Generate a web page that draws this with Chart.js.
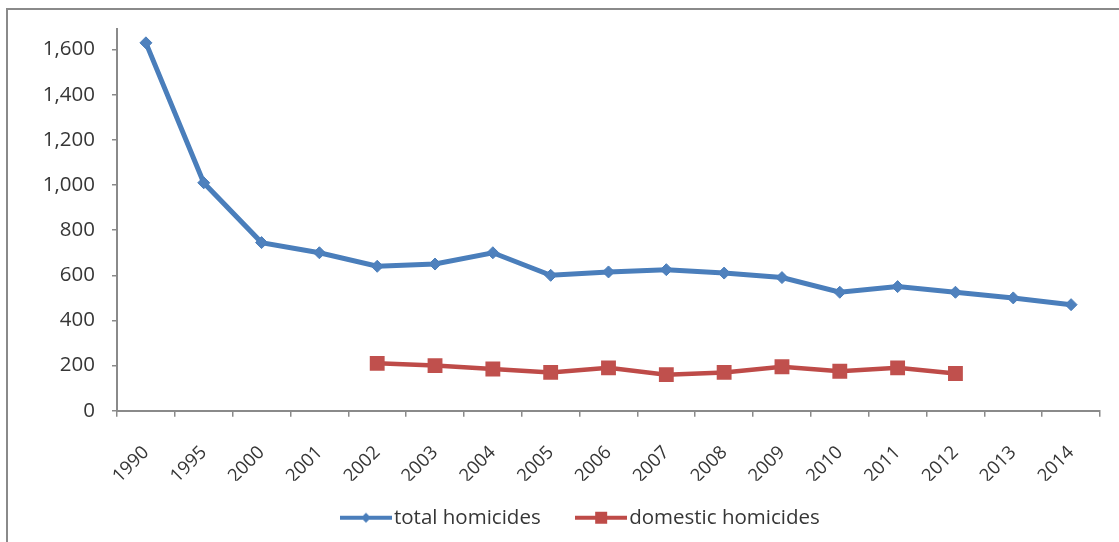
<!DOCTYPE html>
<html>
<head>
<meta charset="utf-8">
<title>Homicides</title>
<script src="https://cdn.jsdelivr.net/npm/chart.js@4/dist/chart.umd.min.js"></script>
<style>
  html, body { margin: 0; padding: 0; background: #fff; overflow: hidden; }
  #wrap { position: relative; width: 1119px; height: 542px; }
  #wrap canvas { position: absolute; left: 0; top: 0; }
  /* outer frame, only top and left edges fall inside the page */
  #frame {
    position: absolute; left: 6px; top: 8px; width: 1200px; height: 600px;
    border-top: 2px solid #8a8a8a; border-left: 2px solid #8a8a8a;
    pointer-events: none;
  }
</style>
</head>
<body>
<div id="wrap">
  <canvas id="chart" width="1119" height="542"></canvas>
  <div id="frame"></div>
</div>
<script>
const years = ['1990', '1995', '2000', '2001', '2002', '2003', '2004', '2005', '2006',
               '2007', '2008', '2009', '2010', '2011', '2012', '2013', '2014'];
const totalHomicides = [1630, 1010, 745, 700, 640, 650, 700, 600, 615,
                        625, 610, 590, 525, 550, 525, 500, 470];
const domesticHomicides = [null, null, null, null, 210, 200, 185, 170, 190,
                           160, 170, 195, 175, 190, 165, null, null];
const seriesNames = ['total homicides', 'domestic homicides'];

const BLUE = '#4a7ebb';
const RED = '#be4b48';
const AXIS = '#8a8a8a';
const TEXT = '#363636';
const FONT = '"Open Sans", sans-serif';

// little line + marker sample used as the legend symbol
function legendSymbol(color, shape) {
    const c = document.createElement('canvas');
    c.width = 52;
    c.height = 16;
    const ctx = c.getContext('2d');
    ctx.strokeStyle = color;
    ctx.lineWidth = 4;
    ctx.beginPath();
    ctx.moveTo(0, 8);
    ctx.lineTo(52, 8);
    ctx.stroke();
    ctx.fillStyle = color;
    if (shape === 'diamond') {
        ctx.beginPath();
        ctx.moveTo(26, 3);
        ctx.lineTo(31, 8);
        ctx.lineTo(26, 13);
        ctx.lineTo(21, 8);
        ctx.closePath();
        ctx.fill();
    } else {
        ctx.fillRect(20, 2, 12, 12);
    }
    return c;
}

const symbols = [legendSymbol(BLUE, 'diamond'), legendSymbol(RED, 'square')];

// legend sits a bit right of the canvas centre
const legendShift = {
    id: 'legendShift',
    afterLayout(chart) {
        chart.legend.left += 34;
        chart.legend.right += 34;
    }
};

new Chart(document.getElementById('chart'), {
    type: 'line',
    data: {
        labels: years,
        datasets: [
            {
                label: seriesNames[0],
                data: totalHomicides,
                borderColor: BLUE,
                borderWidth: 5,
                pointStyle: 'rectRot',
                pointRadius: 6,
                pointBackgroundColor: '#4f81bd',
                pointBorderColor: BLUE,
                pointBorderWidth: 1,
                tension: 0
            },
            {
                label: seriesNames[1],
                data: domesticHomicides,
                borderColor: RED,
                borderWidth: 4.5,
                pointStyle: 'rect',
                pointRadius: 10.5,
                pointBackgroundColor: '#c0504d',
                pointBorderWidth: 0,
                tension: 0
            }
        ]
    },
    plugins: [legendShift],
    options: {
        responsive: false,
        animation: false,
        devicePixelRatio: 1,
        layout: { padding: { left: 0, right: 19, top: 27, bottom: 4 } },
        plugins: {
            tooltip: { enabled: false },
            legend: {
                position: 'bottom',
                labels: {
                    usePointStyle: true,
                    pointStyleWidth: 35.5,
                    padding: 26.75,
                    color: TEXT,
                    font: { family: FONT, size: 20.5 },
                    // trailing spaces widen the gap after the first entry
                    generateLabels: chart => chart.data.datasets.map((ds, i) => ({
                        text: i === 0 ? ds.label + '   ' : ds.label,
                        pointStyle: symbols[i],
                        fontColor: TEXT,
                        hidden: false,
                        lineWidth: 0,
                        datasetIndex: i
                    }))
                }
            }
        },
        scales: {
            x: {
                offset: true,
                grid: {
                    display: true,
                    offset: true,
                    drawOnChartArea: false,
                    tickLength: 6,
                    color: AXIS,
                    lineWidth: 1.5
                },
                border: { color: AXIS, width: 2 },
                ticks: {
                    minRotation: 45,
                    maxRotation: 45,
                    padding: 25,
                    color: TEXT,
                    font: { family: FONT, size: 18.5 }
                },
                afterFit: scale => { scale.height = 70; }
            },
            y: {
                min: 0,
                max: 1690,
                grid: {
                    display: true,
                    drawOnChartArea: false,
                    tickLength: 5,
                    color: AXIS,
                    lineWidth: 1.5
                },
                border: { color: AXIS, width: 2 },
                ticks: {
                    stepSize: 200,
                    includeBounds: false,
                    padding: 17,
                    color: TEXT,
                    font: { family: FONT, size: 20.5 },
                    callback: v => v.toLocaleString('en-US')
                },
                afterFit: scale => { scale.width = 117; }
            }
        }
    }
});
</script>
</body>
</html>
